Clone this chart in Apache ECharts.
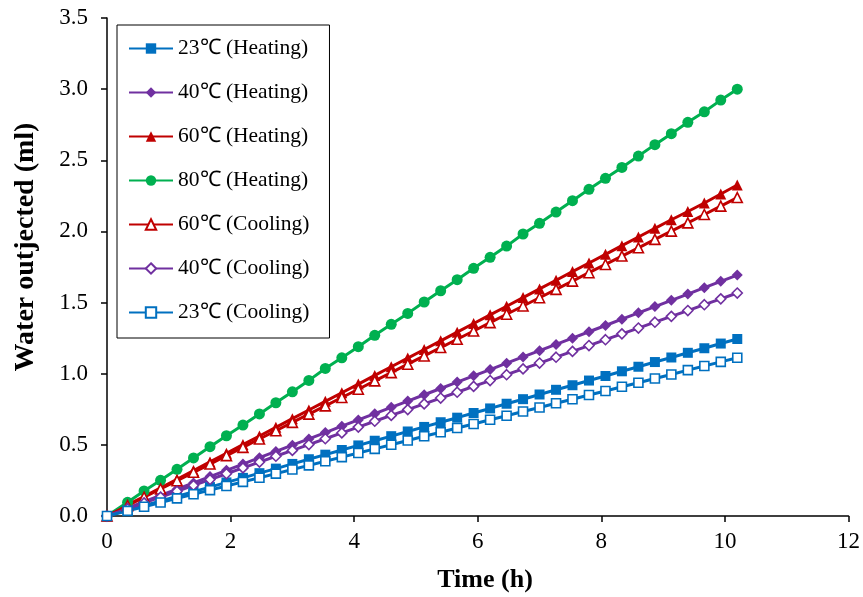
<!DOCTYPE html>
<html>
<head>
<meta charset="utf-8">
<script src="https://cdn.jsdelivr.net/npm/echarts@6/dist/echarts.min.js"></script>
<style>
  html, body { margin: 0; padding: 0; background: #fff; }
  #chart { width: 863px; height: 597px; }
</style>
</head>
<body>
<div id="chart"></div>
<script>
// Sampling times (h): first reading at 20 min, then every 16 min
const timeH = [0, 0.333, 0.6, 0.867, 1.133, 1.4, 1.667, 1.933, 2.2, 2.467, 2.733, 3.0, 3.267,
  3.533, 3.8, 4.067, 4.333, 4.6, 4.867, 5.133, 5.4, 5.667, 5.933, 6.2, 6.467, 6.733, 7.0,
  7.267, 7.533, 7.8, 8.067, 8.333, 8.6, 8.867, 9.133, 9.4, 9.667, 9.933, 10.2];

// Cumulative water outjected (ml)
const heat23 = [0, 0.041, 0.073, 0.106, 0.138, 0.171, 0.203, 0.236, 0.268, 0.301, 0.333, 0.366,
  0.399, 0.431, 0.464, 0.496, 0.529, 0.561, 0.594, 0.626, 0.659, 0.691, 0.724, 0.756, 0.789,
  0.821, 0.854, 0.887, 0.919, 0.952, 0.984, 1.017, 1.049, 1.082, 1.114, 1.147, 1.179, 1.212, 1.244];
const heat40 = [0, 0.055, 0.100, 0.144, 0.188, 0.232, 0.277, 0.321, 0.365, 0.410, 0.454, 0.498,
  0.542, 0.586, 0.631, 0.675, 0.719, 0.764, 0.808, 0.852, 0.896, 0.941, 0.985, 1.029, 1.074,
  1.118, 1.162, 1.206, 1.250, 1.295, 1.339, 1.383, 1.428, 1.472, 1.516, 1.560, 1.605, 1.649, 1.693];
const heat60 = [0, 0.078, 0.137, 0.198, 0.258, 0.319, 0.380, 0.441, 0.502, 0.562, 0.623, 0.684,
  0.745, 0.806, 0.866, 0.927, 0.988, 1.049, 1.110, 1.170, 1.231, 1.292, 1.353, 1.414, 1.474,
  1.535, 1.596, 1.657, 1.718, 1.778, 1.839, 1.900, 1.961, 2.022, 2.082, 2.140, 2.200, 2.263, 2.326];
const heat80 = [0, 0.096, 0.176, 0.251, 0.328, 0.408, 0.487, 0.564, 0.639, 0.717, 0.796, 0.873,
  0.953, 1.037, 1.112, 1.190, 1.270, 1.347, 1.424, 1.504, 1.583, 1.661, 1.741, 1.818, 1.897,
  1.982, 2.057, 2.136, 2.216, 2.296, 2.373, 2.450, 2.530, 2.610, 2.687, 2.767, 2.841, 2.923, 3.000];
const cool60 = [0, 0.073, 0.132, 0.190, 0.248, 0.307, 0.365, 0.424, 0.482, 0.541, 0.599, 0.658,
  0.716, 0.774, 0.833, 0.891, 0.950, 1.008, 1.067, 1.125, 1.184, 1.242, 1.300, 1.359, 1.418,
  1.476, 1.534, 1.593, 1.651, 1.710, 1.768, 1.827, 1.885, 1.944, 2.002, 2.060, 2.119, 2.178, 2.238];
const cool40 = [0, 0.051, 0.092, 0.133, 0.174, 0.215, 0.256, 0.297, 0.338, 0.379, 0.420, 0.461,
  0.502, 0.543, 0.584, 0.625, 0.666, 0.707, 0.748, 0.788, 0.829, 0.870, 0.911, 0.952, 0.993,
  1.034, 1.075, 1.116, 1.157, 1.198, 1.239, 1.280, 1.321, 1.362, 1.403, 1.444, 1.485, 1.526, 1.567];
const cool23 = [0, 0.036, 0.065, 0.095, 0.124, 0.153, 0.182, 0.211, 0.240, 0.269, 0.298, 0.327,
  0.356, 0.385, 0.414, 0.443, 0.472, 0.501, 0.531, 0.560, 0.589, 0.618, 0.647, 0.676, 0.705,
  0.734, 0.763, 0.792, 0.821, 0.850, 0.879, 0.908, 0.937, 0.966, 0.995, 1.025, 1.054, 1.083, 1.112];

const xTicks = [0, 2, 4, 6, 8, 10, 12];
const yTicks = [0, 0.5, 1.0, 1.5, 2.0, 2.5, 3.0, 3.5];

const xTitle = 'Time (h)';
const yTitle = 'Water outjected (ml)';

const BLUE = '#0070C0', PURPLE = '#7030A0', RED = '#C00000', GREEN = '#00B050';
const FONT = '"Liberation Serif", "Times New Roman", serif';

function pairs(ys) { return timeH.map((t, i) => [t, ys[i]]); }

function makeSeries(name, ys, color, symbol, size, hollow) {
  return {
    name: name,
    type: 'line',
    data: pairs(ys),
    symbol: symbol,
    symbolSize: size,
    showAllSymbol: true,
    lineStyle: { color: color, width: 3 },
    itemStyle: hollow
      ? { color: '#ffffff', borderColor: color, borderWidth: 1.6 }
      : { color: color, borderColor: color, borderWidth: 0 },
    emphasis: { disabled: true },
    animation: false
  };
}

const chart = echarts.init(document.getElementById('chart'), null, { renderer: 'canvas' });

chart.setOption({
  backgroundColor: '#ffffff',
  animation: false,
  grid: { left: 107, right: 14, top: 18, bottom: 81, containLabel: false },
  // Axis titles placed as free text
  graphic: [
    {
      type: 'text',
      x: 485, y: 580,
      style: { text: xTitle, font: 'bold 26px ' + FONT, fill: '#000',
               textAlign: 'center', textVerticalAlign: 'middle' }
    },
    {
      type: 'text',
      x: 26, y: 247,
      rotation: Math.PI / 2,
      style: { text: yTitle, font: 'bold 28px ' + FONT, fill: '#000',
               textAlign: 'center', textVerticalAlign: 'middle' }
    }
  ],
  legend: {
    orient: 'vertical',
    left: 117,
    top: 25,
    padding: [12, 20, 14, 11],
    itemGap: 21,
    itemWidth: 44,
    itemHeight: 13,
    borderColor: '#000',
    borderWidth: 1,
    backgroundColor: '#fff',
    textStyle: { fontFamily: FONT, fontSize: 21.5, color: '#000', lineHeight: 23, padding: [0, 0, 0, 0] },
    data: ['23℃ (Heating)', '40℃ (Heating)', '60℃ (Heating)', '80℃ (Heating)',
           '60℃ (Cooling)', '40℃ (Cooling)', '23℃ (Cooling)']
  },
  xAxis: {
    type: 'value',
    min: xTicks[0],
    max: xTicks[xTicks.length - 1],
    interval: xTicks[1] - xTicks[0],
    axisLine: { lineStyle: { color: '#000', width: 1.5 } },
    axisTick: { inside: false, length: 6, lineStyle: { color: '#000', width: 1.5 } },
    axisLabel: { fontFamily: FONT, fontSize: 23, color: '#000', margin: 14 },
    splitLine: { show: false }
  },
  yAxis: {
    type: 'value',
    min: yTicks[0],
    max: yTicks[yTicks.length - 1],
    interval: yTicks[1] - yTicks[0],
    axisLine: { show: true, lineStyle: { color: '#000', width: 1.5 } },
    axisTick: { show: true, inside: false, length: 6, lineStyle: { color: '#000', width: 1.5 } },
    axisLabel: { fontFamily: FONT, fontSize: 23, color: '#000', margin: 19,
                 formatter: v => v.toFixed(1) },
    splitLine: { show: false }
  },
  series: [
    makeSeries('23℃ (Heating)', heat23, BLUE, 'rect', 10, false),
    makeSeries('40℃ (Heating)', heat40, PURPLE, 'diamond', 11, false),
    makeSeries('60℃ (Heating)', heat60, RED, 'triangle', 11, false),
    makeSeries('80℃ (Heating)', heat80, GREEN, 'circle', 11, false),
    makeSeries('60℃ (Cooling)', cool60, RED, 'triangle', 10, true),
    makeSeries('40℃ (Cooling)', cool40, PURPLE, 'diamond', 10, true),
    makeSeries('23℃ (Cooling)', cool23, BLUE, 'rect', 9, true)
  ]
});
</script>
</body>
</html>
